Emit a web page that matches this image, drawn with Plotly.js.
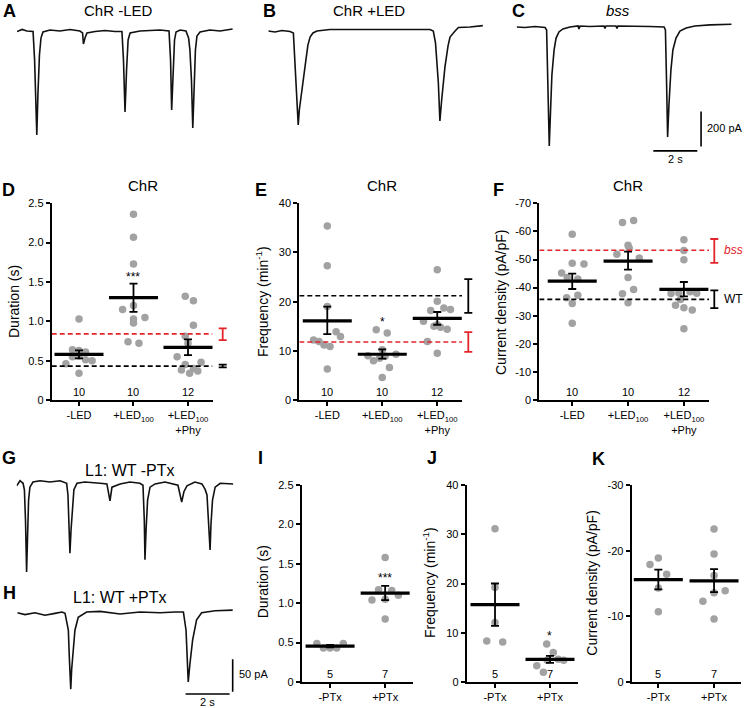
<!DOCTYPE html>
<html><head><meta charset="utf-8">
<script src="https://cdn.plot.ly/plotly-3.0.1.min.js"></script>
<style>html,body{margin:0;padding:0;background:#fff}#chart{width:744px;height:708px}</style>
</head><body><div id="chart"></div>
<script>
// ================= DATA =================
// Current traces: [time (s), current (pA)]
const traceA = [[0,-9],[0.23,3],[0.45,-6],[0.73,-9],[0.80,-171],[0.90,-600],[0.95,-371],[1.02,-143],[1.09,-46],[1.18,-11],[1.50,0],[1.95,-6],[2.41,3],[2.86,-6],[2.98,-17],[3.02,-80],[3.09,-46],[3.18,-17],[3.55,-9],[4.00,-3],[4.45,-9],[4.77,-9],[4.84,-171],[4.91,-469],[4.98,-229],[5.05,-57],[5.14,-17],[5.59,-6],[6.05,-3],[6.50,0],[6.91,-6],[6.98,-171],[7.03,-457],[7.09,-257],[7.16,-57],[7.23,-11],[7.41,0],[7.68,-6],[7.80,-46],[7.86,-114],[7.93,-286],[7.99,-560],[8.05,-343],[8.11,-114],[8.18,-34],[8.32,-11],[8.77,0],[9.23,-6],[9.80,6]];
const traceB = [[0,-6],[0.30,-11],[0.62,-3],[0.99,-9],[1.14,-17],[1.21,-171],[1.30,-400],[1.36,-543],[1.41,-457],[1.49,-371],[1.59,-286],[1.71,-171],[1.80,-86],[1.90,-40],[2.03,-17],[2.21,-6],[2.80,3],[3.71,3],[4.62,0],[5.53,3],[6.44,0],[7.35,3],[7.50,-6],[7.60,-74],[7.73,-303],[7.80,-520],[7.88,-400],[8.03,-211],[8.17,-91],[8.26,-40],[8.49,-6],[8.64,14],[9.17,17],[9.75,25]];
const traceC = [[0,17],[0.38,14],[0.83,20],[1.29,14],[1.36,0],[1.42,-286],[1.48,-663],[1.54,-457],[1.60,-257],[1.70,-114],[1.79,-46],[1.92,-11],[2.10,6],[2.42,17],[2.79,23],[2.83,6],[2.88,23],[3.33,20],[3.97,23],[4.01,9],[4.06,23],[4.51,23],[4.56,9],[4.60,23],[5.15,23],[6.06,20],[6.70,17],[6.76,0],[6.81,-286],[6.86,-611],[6.92,-429],[7.01,-229],[7.10,-114],[7.24,-46],[7.42,-6],[7.70,11],[8.10,23],[8.79,29],[9.77,33]];
const traceG = [[0,-6],[0.15,2],[0.29,-2],[0.35,-12],[0.40,-59],[0.45,-139],[0.49,-89],[0.54,-28],[0.60,-8],[0.74,0],[1.06,2],[1.51,0],[1.97,2],[2.27,-2],[2.33,-20],[2.38,-59],[2.42,-110],[2.47,-74],[2.54,-35],[2.60,-12],[2.74,-2],[3.10,0],[3.79,-2],[4.10,-3],[4.24,-29],[4.33,-8],[4.70,-3],[5.15,0],[5.60,-2],[5.74,-5],[5.80,-59],[5.83,-120],[5.88,-74],[5.95,-28],[6.06,-8],[6.29,-3],[6.74,0],[7.33,-5],[7.50,-31],[7.60,-15],[7.74,-6],[8.10,0],[8.42,-3],[8.56,-11],[8.65,-20],[8.74,-74],[8.79,-105],[8.83,-66],[8.90,-28],[9.02,-8],[9.25,-2],[9.85,-3]];
const traceH = [[0,0],[0.35,-3],[0.80,0],[1.26,-4],[1.71,-1],[2.03,1],[2.17,-1],[2.24,-11],[2.32,-27],[2.37,-73],[2.43,-118],[2.47,-88],[2.52,-68],[2.62,-27],[2.77,-7],[3.15,1],[3.76,2],[4.67,-2],[5.58,1],[6.49,0],[7.17,1],[7.55,1],[7.67,-27],[7.73,-65],[7.77,-107],[7.85,-78],[7.97,-42],[8.15,-11],[8.38,0],[8.99,3],[9.79,4]];

// Scale bars (s, pA)
const sbTop_time = [6.21, 8.21], sbTop_timeAt = -691, sbTop_amp = [-466, -666], sbTop_ampAt = 8.38;
const sbBot_time = [7.65, 9.65], sbBot_timeAt = -125.4, sbBot_amp = [-71.9, -121.9], sbBot_ampAt = 9.79;

// Category labels
const catsChR = ['-LED', '+LED<sub>100</sub>', '+LED<sub>100</sub><br>+Phy'];
const catsPTx = ['-PTx', '+PTx'];

// D: Duration (s)
const D_minusLED = [1.03,0.64,0.63,0.61,0.55,0.56,0.51,0.50,0.46,0.34];
const D_minusLED_jit = [0,-0.12,0,0.12,-0.12,0,0.12,0.24,-0.24,0];
const D_plusLED = [2.36,2.07,1.73,1.20,1.15,1.05,1.03,0.98,0.74,0.72];
const D_plusLED_jit = [0,0,0,0,-0.2,0.21,0,0,-0.1,0.1];
const D_phy = [1.32,1.26,0.95,0.81,0.72,0.55,0.48,0.45,0.40,0.38,0.37,0.34];
const D_phy_jit = [-0.05,0.1,0.1,-0.05,0,-0.2,0.24,-0.05,0.1,-0.12,0.18,0.03];
const D_mean = [0.58,1.30,0.67], D_hi = [0.63,1.48,0.77], D_lo = [0.53,1.12,0.57];
const D_n = ['10','10','12'];
const D_refBss = [0.84, 0.76, 0.91], D_refWT = [0.43, 0.415, 0.45];

// E: Frequency (min-1)
const E_minusLED = [35.4,27.3,19.0,13.9,12.9,12.2,11.9,11.2,10.9,6.3];
const E_minusLED_jit = [0,0,0,0.16,0.24,-0.25,-0.15,-0.06,0.05,0];
const E_plusLED = [14.3,13.6,10.2,9.3,9.0,8.9,8.5,8.0,6.6,4.6];
const E_plusLED_jit = [-0.11,0.09,0,0.25,-0.26,0.05,-0.05,-0.16,0.13,0];
const E_phy = [26.5,20.1,18.7,18.4,18.2,16.0,15.3,15.0,14.8,14.4,11.9,9.5];
const E_phy_jit = [0,0,0.12,0.24,-0.12,-0.25,0,-0.06,0.06,0.18,-0.18,0];
const E_mean = [16.1,9.3,16.6], E_hi = [19.0,10.3,17.9], E_lo = [13.4,8.4,15.3];
const E_n = ['10','10','12'];
const E_refBss = [11.8, 9.8, 13.8], E_refWT = [21.2, 17.7, 24.6];

// F: Current density (pA/pF)
const F_minusLED = [-59.0,-48.7,-48.4,-45.2,-43.6,-43.1,-37.3,-36.4,-34.3,-27.3];
const F_minusLED_jit = [0,0,0.21,-0.19,-0.09,0.1,0.1,-0.1,0,0];
const F_plusLED = [-63.9,-63.2,-55.1,-54.1,-51.9,-50.5,-43.6,-39.3,-37.8,-34.6];
const F_plusLED_jit = [0.1,-0.1,0,0.02,-0.2,0.2,0,0.1,-0.1,0];
const F_phy = [-57.0,-53.2,-49.9,-38.5,-38.1,-38.0,-37.9,-35.8,-33.7,-32.8,-32.0,-25.4];
const F_phy_jit = [0,0,0,0.11,-0.09,0.23,-0.23,-0.06,-0.15,0,0.15,0];
const F_mean = [-42.3,-49.4,-39.4], F_hi = [-45.0,-52.8,-42.0], F_lo = [-39.5,-46.4,-36.9];
const F_n = ['10','10','12'];
const F_refBss = [-53.3, -48.8, -57.3], F_refWT = [-35.8, -32.7, -39.0];

// I: Duration (s)
const I_minus = [0.49,0.43,0.43,0.43,0.49], I_minus_jit = [-0.24,-0.12,0,0.12,0.24];
const I_plus = [1.58,1.17,1.16,1.10,1.05,1.04,0.80], I_plus_jit = [0,-0.12,0.12,0.24,0,-0.24,0];
const I_mean = [0.455,1.127], I_hi = [0.47,1.22], I_lo = [0.44,1.04];
const I_n = ['5','7'];

// J: Frequency (min-1)
const J_minus = [31.1,19.2,12.1,8.3,8.1], J_minus_jit = [0,0,0,-0.15,0.14];
const J_plus = [7.7,6.0,4.6,4.4,4.4,3.3,2.0], J_plus_jit = [-0.06,0.06,0.15,0.25,-0.05,-0.24,-0.12];
const J_mean = [15.7,4.6], J_hi = [20.0,5.3], J_lo = [11.4,3.9];
const J_n = ['5','7'];

// K: Current density (pA/pF)
const K_minus = [-18.9,-17.9,-16.4,-14.3,-10.7], K_minus_jit = [0,-0.15,0.15,0,0];
const K_plus = [-23.3,-19.5,-16.2,-13.9,-13.6,-12.3,-9.6], K_plus_jit = [0,0,0,0.2,0,-0.2,0];
const K_mean = [-15.6,-15.4], K_hi = [-17.1,-17.2], K_lo = [-14.1,-13.7];
const K_n = ['5','7'];

// ================= BUILD =================
const FONT = 'Liberation Sans, Arial, Helvetica, sans-serif';
const W = 744, H = 708;
const RED = '#e3242b';
const BLACK = 'rgb(0,0,0)';
const xdom = (a,b) => [a/W, b/W];
const ydom = (top,bot) => [1-bot/H, 1-top/H];

const data = [];
const layout = {
  width: W, height: H, margin:{l:0,r:0,t:0,b:0},
  paper_bgcolor:'#fff', plot_bgcolor:'rgba(0,0,0,0)', showlegend:false,
  font:{family:FONT, color:BLACK, size:11},
  annotations:[], shapes:[], hovermode:false
};
function sfx(id){ return id===1 ? '' : String(id); }
function axes(id, xd, yd, xr, yr, xe, ye){
  const s = sfx(id);
  layout['xaxis'+s] = Object.assign({domain:xd, range:xr, anchor:'y'+s, fixedrange:true}, xe||{visible:false});
  layout['yaxis'+s] = Object.assign({domain:yd, range:yr, anchor:'x'+s, fixedrange:true}, ye||{visible:false});
  return {x:'x'+s, y:'y'+s};
}
function pxAnn(x, y, text, o){
  layout.annotations.push(Object.assign({x:x/W, y:1-y/H, xref:'paper', yref:'paper', text:text, showarrow:false,
    xanchor:'center', yanchor:'middle', font:{family:FONT, size:11, color:BLACK}}, o||{}));
}

// ---- trace panels ----
function tracePanel(id, xd, yd, xr, yr, pts){
  const a = axes(id, xd, yd, xr, yr);
  data.push({type:'scatter', mode:'lines', x:pts.map(p=>p[0]), y:pts.map(p=>p[1]),
    xaxis:a.x, yaxis:a.y, line:{color:'#111', width:1.6}, hoverinfo:'skip'});
  return a;
}
const pAperPxTop = 200/35, pAperPxBot = 50/32.4;
tracePanel(1, xdom(17,233), ydom(18,155), [0, 216/22], [-(155-30)*pAperPxTop, (30-18)*pAperPxTop], traceA);
tracePanel(2, xdom(268.3,483.3), ydom(18,155), [0, 215/22], [-(155-30)*pAperPxTop, (30-18)*pAperPxTop], traceB);
const aC = tracePanel(3, xdom(516.7,731.7), ydom(18,155), [0, 215/22], [-(155-30)*pAperPxTop, (30-18)*pAperPxTop], traceC);
tracePanel(7, xdom(16.7,233.3), ydom(474,576), [0, 216.6/22], [-(576-482)*pAperPxBot, (482-474)*pAperPxBot], traceG);
const aH = tracePanel(8, xdom(17.3,240), ydom(600,700), [0, 222.7/22], [-(700-612.7)*pAperPxBot, (612.7-600)*pAperPxBot], traceH);

// scale bars
function bar(a, x0,x1,y0,y1){ layout.shapes.push({type:'line', xref:a.x, yref:a.y, x0:x0,x1:x1,y0:y0,y1:y1, line:{color:BLACK, width:1.6}}); }
bar(aC, sbTop_time[0], sbTop_time[1], sbTop_timeAt, sbTop_timeAt);
bar(aC, sbTop_ampAt, sbTop_ampAt, sbTop_amp[0], sbTop_amp[1]);
bar(aH, sbBot_time[0], sbBot_time[1], sbBot_timeAt, sbBot_timeAt);
bar(aH, sbBot_ampAt, sbBot_ampAt, sbBot_amp[0], sbBot_amp[1]);
pxAnn(675, 159, '2 s');
pxAnn(705, 128, '200 pA', {xanchor:'left'});
pxAnn(207.3, 702, '2 s');
pxAnn(237, 674, '50 pA', {xanchor:'left'});

// ---- stat panels ----
const axStyleX = {visible:true, showline:true, linewidth:2, linecolor:BLACK, ticks:'outside', ticklen:4, tickwidth:2,
  tickcolor:BLACK, showgrid:false, zeroline:false, tickfont:{family:FONT, size:11, color:BLACK}};
const axStyleY = Object.assign({}, axStyleX);

function statPanel(id, xd, yd, xr, yr, cats, yticks, groups, jits, mean, hi, lo, nLab){
  const a = axes(id, xd, yd, xr, yr,
    Object.assign({}, axStyleX, {tickvals:cats.map((c,i)=>i+1), ticktext:cats}),
    Object.assign({}, axStyleY, {tickvals:yticks, ticktext:yticks.map(v=>String(v))}));
  groups.forEach((g,i)=>{
    data.push({type:'scatter', mode:'markers', x:g.map((v,j)=>i+1+jits[i][j]), y:g,
      xaxis:a.x, yaxis:a.y, marker:{color:'#a2a2a2', size:7.5, line:{width:0}}, hoverinfo:'skip', cliponaxis:false});
  });
  const plus = mean.map((m,i)=>Math.max(hi[i],lo[i])-m);
  const minus = mean.map((m,i)=>m-Math.min(hi[i],lo[i]));
  data.push({type:'scatter', mode:'markers', x:mean.map((m,i)=>i+1), y:mean, xaxis:a.x, yaxis:a.y,
    marker:{symbol:'line-ew', size:35, color:BLACK, line:{width:3.2, color:BLACK}},
    error_y:{type:'data', symmetric:false, array:plus, arrayminus:minus, color:BLACK, thickness:1.8, width:4},
    hoverinfo:'skip', cliponaxis:false});
  nLab.forEach((t,i)=>layout.annotations.push({x:i+1, y:yr[0], xref:a.x, yref:a.y, text:t, showarrow:false,
    yanchor:'bottom', yshift:0, font:{family:FONT,size:11,color:BLACK}}));
  return a;
}
function star(a, x, y, t){
  layout.annotations.push({x:x, y:y, xref:a.x, yref:a.y, text:t, showarrow:false, yshift:-2,
    font:{family:FONT, size:12, color:BLACK}});
}
function refLine(a, xr, ref, color){
  data.push({type:'scatter', mode:'lines', x:[xr[0], xr[1]], y:[ref[0], ref[0]], xaxis:a.x, yaxis:a.y,
    line:{color:color, width:1.6, dash:'5px,3px'}, hoverinfo:'skip'});
}
function refErr(id, xc, yd, yr, refs, colors){
  const a = axes(id, xdom(xc-8, xc+8), yd, [-1,1], yr);
  refs.forEach((r,k)=>{
    data.push({type:'scatter', mode:'markers', x:[0], y:[r[0]], xaxis:a.x, yaxis:a.y,
      marker:{size:1, color:'rgba(0,0,0,0)'},
      error_y:{type:'data', symmetric:false, array:[Math.max(r[1],r[2])-r[0]], arrayminus:[r[0]-Math.min(r[1],r[2])],
        color:colors[k], thickness:1.8, width:4}, hoverinfo:'skip'});
  });
  return a;
}

const ydomTop = ydom(203.3, 400);
// D
const xrD = [0.499, 3.45];
const aD = statPanel(4, xdom(51.7,212.5), ydomTop, xrD, [0,2.5], catsChR, [0,0.5,1.0,1.5,2.0,2.5],
  [D_minusLED, D_plusLED, D_phy], [D_minusLED_jit, D_plusLED_jit, D_phy_jit], D_mean, D_hi, D_lo, D_n);
layout.yaxis4.ticktext = ['0','0.5','1.0','1.5','2.0','2.5'];
refLine(aD, xrD, D_refBss, RED); refLine(aD, xrD, D_refWT, BLACK);
refErr(12, 222.7, ydomTop, [0,2.5], [D_refBss, D_refWT], [RED,BLACK]);
star(aD, 2, 1.59, '***');

// E
const xrE = [0.491, 3.45];
const aE = statPanel(5, xdom(299.3,462), ydomTop, xrE, [0,40], catsChR, [0,10,20,30,40],
  [E_minusLED, E_plusLED, E_phy], [E_minusLED_jit, E_plusLED_jit, E_phy_jit], E_mean, E_hi, E_lo, E_n);
refLine(aE, xrE, E_refBss, RED); refLine(aE, xrE, E_refWT, BLACK);
refErr(13, 468.3, ydomTop, [0,40], [E_refBss, E_refWT], [RED,BLACK]);
star(aE, 2, 16.3, '*');

// F
const xrF = [0.41, 3.45];
const aF = statPanel(6, xdom(539.3,709), ydomTop, xrF, [0,-70], catsChR, [0,-10,-20,-30,-40,-50,-60,-70],
  [F_minusLED, F_plusLED, F_phy], [F_minusLED_jit, F_plusLED_jit, F_phy_jit], F_mean, F_hi, F_lo, F_n);
refLine(aF, xrF, F_refBss, RED); refLine(aF, xrF, F_refWT, BLACK);
const aFr = refErr(14, 714.3, ydomTop, [0,-70], [F_refBss, F_refWT], [RED,BLACK]);
layout.annotations.push({x:721.5/W, xref:'paper', y:F_refBss[0], yref:aFr.y, text:'<i>bss</i>', showarrow:false,
  xanchor:'left', font:{family:FONT,size:12,color:RED}});
layout.annotations.push({x:721.5/W, xref:'paper', y:F_refWT[0], yref:aFr.y, text:'WT', showarrow:false,
  xanchor:'left', font:{family:FONT,size:12,color:BLACK}});

const ydomBot = ydom(485, 682);
// I
const aI = statPanel(9, xdom(301.7,412.7), ydomBot, [0.485, 2.5], [0,2.5], catsPTx, [0,0.5,1.0,1.5,2.0,2.5],
  [I_minus, I_plus], [I_minus_jit, I_plus_jit], I_mean, I_hi, I_lo, I_n);
layout.yaxis9.ticktext = ['0','0.5','1.0','1.5','2.0','2.5'];
star(aI, 2, 1.34, '***');
// J
const aJ = statPanel(10, xdom(466.7,578.3), ydomBot, [0.485, 2.515], [0,40], catsPTx, [0,10,20,30,40],
  [J_minus, J_plus], [J_minus_jit, J_plus_jit], J_mean, J_hi, J_lo, J_n);
star(aJ, 2, 9.8, '*');
// K
const aK = statPanel(11, xdom(631.7,741), ydomBot, [0.522, 2.484], [0,-30], catsPTx, [0,-10,-20,-30],
  [K_minus, K_plus], [K_minus_jit, K_plus_jit], K_mean, K_hi, K_lo, K_n);

// ---- titles, letters, axis titles ----
const letterFont = {family:FONT, size:18, color:BLACK};
[['A',9,11],['B',269,11],['C',518,11],['D',8.5,190],['E',261,190],['F',499,190],
 ['G',8.7,458],['H',9.2,593],['I',260.5,458],['J',431.7,458],['K',598.3,459]].forEach(l=>
  pxAnn(l[1], l[2], '<b>'+l[0]+'</b>', {font:letterFont}));

const tf = {family:FONT, size:15, color:BLACK};
pxAnn(118, 11, 'ChR -LED', {font:tf});
pxAnn(369, 11, 'ChR +LED', {font:tf});
pxAnn(618, 11, '<i>bss</i>', {font:tf});
pxAnn(143, 186, 'ChR', {font:tf});
pxAnn(381.7, 186, 'ChR', {font:tf});
pxAnn(628.3, 186, 'ChR', {font:tf});
const tf2 = {family:FONT, size:16, color:BLACK};
pxAnn(130, 470, 'L1: WT -PTx', {font:tf2});
pxAnn(120, 597, 'L1: WT +PTx', {font:tf2});

const af = {family:FONT, size:14, color:BLACK};
pxAnn(14, 302, 'Duration (s)', {font:af, textangle:-90});
pxAnn(262, 302, 'Frequency (min<sup>-1</sup>)', {font:af, textangle:-90});
pxAnn(501, 302, 'Current density (pA/pF)', {font:af, textangle:-90});
pxAnn(263.3, 582, 'Duration (s)', {font:af, textangle:-90});
pxAnn(429, 583, 'Frequency (min<sup>-1</sup>)', {font:af, textangle:-90});
pxAnn(591.7, 583, 'Current density (pA/pF)', {font:af, textangle:-90});

Plotly.newPlot('chart', data, layout, {staticPlot:true, displayModeBar:false});
</script>
</body></html>
